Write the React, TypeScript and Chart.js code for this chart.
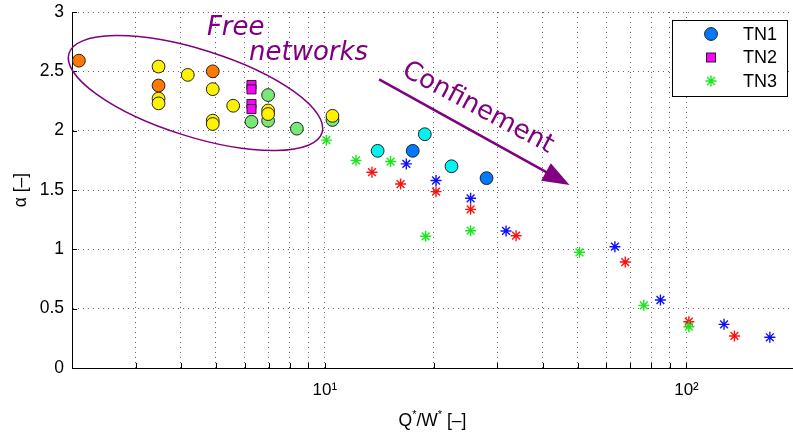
import React, { useEffect, useRef } from 'react';
import { Chart, registerables } from 'chart.js';

Chart.register(...registerables);

// ---------- tick definitions ----------
const xTickValues = [2, 3, 4, 5, 6, 7, 8, 9, 10, 20, 30, 40, 50, 60, 70, 80, 90, 100];
const xTickLabels: Record<string, string> = { '10': '10\u00B9', '100': '10\u00B2' };
const yTickValues = [0, 0.5, 1, 1.5, 2, 2.5, 3];
const xMin = 2;
const xMax = 197;
const yMin = 0;
const yMax = 3;

// ---------- TN1 (circles, coloured) ----------
const tn1YellowX = [3.47, 3.47, 3.47, 4.18, 4.9, 4.9, 4.9, 5.58, 6.97, 6.97, 10.5];
const tn1YellowY = [2.54, 2.27, 2.23, 2.47, 2.35, 2.085, 2.056, 2.21, 2.17, 2.14, 2.125];
const tn1OrangeX = [2.09, 3.47, 4.9];
const tn1OrangeY = [2.59, 2.38, 2.5];
const tn1GreenX = [6.27, 6.97, 6.97, 8.37, 10.5];
const tn1GreenY = [2.075, 2.3, 2.084, 2.017, 2.09];
const tn1CyanX = [14.0, 18.9, 22.4];
const tn1CyanY = [1.83, 1.97, 1.7];
const tn1BlueX = [17.5, 28.0];
const tn1BlueY = [1.83, 1.6];

// ---------- TN2 (squares) ----------
const tn2X = [6.27, 6.27, 6.27, 6.27];
const tn2Y = [2.385, 2.348, 2.225, 2.182];

// ---------- TN3 (stars) ----------
const tn3GreenX = [10.1, 12.2, 15.2, 19.0, 25.3, 50.6, 76.2, 101.5];
const tn3GreenY = [1.92, 1.75, 1.74, 1.11, 1.157, 0.975, 0.528, 0.348];
const tn3RedX = [13.5, 16.2, 20.3, 25.3, 33.8, 67.7, 101.5, 135.7];
const tn3RedY = [1.65, 1.55, 1.486, 1.337, 1.115, 0.893, 0.39, 0.27];
const tn3BlueX = [16.8, 20.3, 25.3, 31.7, 63.4, 84.7, 127, 170];
const tn3BlueY = [1.72, 1.58, 1.43, 1.155, 1.022, 0.573, 0.368, 0.259];

// ---------- annotation anchors (data coordinates) ----------
const ellipseCenter = [4.39, 2.317];
const freeTextAnchor = [4.72, 2.806];
const networksTextAnchor = [6.17, 2.595];
const arrowStart = [14.13, 2.432];
const arrowEnd = [47.5, 1.542];
const confinementAnchor = [26.5, 2.19];

const PURPLE = '#800080';
const FONT = '"Liberation Sans", Arial, Helvetica, sans-serif';
const ANNOT_FONT = '"DejaVu Sans", sans-serif';

const C_YELLOW = '#fff200';
const C_ORANGE = '#ff7800';
const C_GREEN = '#78e878';
const C_CYAN = '#00f4f4';
const C_BLUE = '#0078ff';
const C_MAGENTA = '#ff00ff';
const S_GREEN = '#18e818';
const S_RED = '#ff1010';
const S_BLUE = '#1010ff';

function pts(xs: number[], ys: number[]) {
  return xs.map((x, i) => ({ x, y: ys[i] }));
}

function circleSet(label: string, xs: number[], ys: number[], color: string, legendRank?: number) {
  return {
    label,
    data: pts(xs, ys),
    pointStyle: 'circle',
    pointRadius: 6.4,
    pointBackgroundColor: color,
    pointBorderColor: '#222',
    pointBorderWidth: 1,
    showLine: false,
    legendRank,
    legendColor: color,
  };
}

function starSet(label: string, xs: number[], ys: number[], color: string, legendRank?: number) {
  return {
    label,
    data: pts(xs, ys),
    pointStyle: 'star',
    pointRadius: 5.5,
    pointBackgroundColor: color,
    pointBorderColor: color,
    pointBorderWidth: 1.4,
    showLine: false,
    legendRank,
    legendColor: color,
  };
}

function drawMarker(ctx: CanvasRenderingContext2D, style: string, x: number, y: number, color: string) {
  ctx.save();
  ctx.lineWidth = 1;
  if (style === 'circle') {
    ctx.beginPath();
    ctx.arc(x, y, 6.4, 0, Math.PI * 2);
    ctx.fillStyle = color;
    ctx.fill();
    ctx.strokeStyle = '#222';
    ctx.stroke();
  } else if (style === 'rect') {
    ctx.fillStyle = color;
    ctx.fillRect(x - 4.5, y - 4.5, 9, 9);
    ctx.strokeStyle = '#222';
    ctx.strokeRect(x - 4.5, y - 4.5, 9, 9);
  } else {
    const r = 5.5;
    const d = r * Math.SQRT1_2;
    ctx.strokeStyle = color;
    ctx.lineWidth = 1.4;
    ctx.beginPath();
    ctx.moveTo(x - r, y); ctx.lineTo(x + r, y);
    ctx.moveTo(x, y - r); ctx.lineTo(x, y + r);
    ctx.moveTo(x - d, y - d); ctx.lineTo(x + d, y + d);
    ctx.moveTo(x - d, y + d); ctx.lineTo(x + d, y - d);
    ctx.stroke();
  }
  ctx.restore();
}

const inwardTicksPlugin = {
  id: 'inwardTicks',
  beforeDatasetsDraw(chart: any) {
    const { ctx, chartArea, scales } = chart;
    ctx.save();
    ctx.strokeStyle = '#000';
    ctx.lineWidth = 1;
    ctx.beginPath();
    for (const v of xTickValues) {
      const px = Math.round(scales.x.getPixelForValue(v)) + 0.5;
      ctx.moveTo(px, chartArea.bottom);
      ctx.lineTo(px, chartArea.bottom - 5);
    }
    for (const v of yTickValues) {
      const py = Math.round(scales.y.getPixelForValue(v)) + 0.5;
      ctx.moveTo(chartArea.left, py);
      ctx.lineTo(chartArea.left + 5, py);
    }
    ctx.stroke();
    ctx.restore();
  },
};

const annotationPlugin = {
  id: 'annotations',
  afterDatasetsDraw(chart: any) {
    const { ctx, scales } = chart;
    const X = (v: number) => scales.x.getPixelForValue(v);
    const Y = (v: number) => scales.y.getPixelForValue(v);
    ctx.save();
    // ellipse
    ctx.strokeStyle = PURPLE;
    ctx.lineWidth = 1.5;
    ctx.beginPath();
    ctx.ellipse(X(ellipseCenter[0]), Y(ellipseCenter[1]), 132.6, 43.6, (17.4 * Math.PI) / 180, 0, Math.PI * 2);
    ctx.stroke();
    // texts
    ctx.fillStyle = PURPLE;
    ctx.font = `italic 26px ${ANNOT_FONT}`;
    ctx.textAlign = 'left';
    ctx.textBaseline = 'alphabetic';
    ctx.fillText('Free', X(freeTextAnchor[0]), Y(freeTextAnchor[1]));
    ctx.fillText('networks', X(networksTextAnchor[0]), Y(networksTextAnchor[1]));
    // confinement text
    ctx.save();
    ctx.translate(X(confinementAnchor[0]), Y(confinementAnchor[1]));
    ctx.rotate((28 * Math.PI) / 180);
    ctx.font = `26px ${ANNOT_FONT}`;
    ctx.textAlign = 'center';
    ctx.textBaseline = 'middle';
    ctx.fillText('Confinement', 0, 0);
    ctx.restore();
    // arrow
    const x1 = X(arrowStart[0]), y1 = Y(arrowStart[1]);
    const x2 = X(arrowEnd[0]), y2 = Y(arrowEnd[1]);
    const ang = Math.atan2(y2 - y1, x2 - x1);
    const headLen = 27;
    const headHalf = 10;
    const bx = x2 - headLen * Math.cos(ang);
    const by = y2 - headLen * Math.sin(ang);
    ctx.strokeStyle = PURPLE;
    ctx.lineWidth = 2.5;
    ctx.beginPath();
    ctx.moveTo(x1, y1);
    ctx.lineTo(bx + 2 * Math.cos(ang), by + 2 * Math.sin(ang));
    ctx.stroke();
    ctx.beginPath();
    ctx.moveTo(x2, y2);
    ctx.lineTo(bx + headHalf * Math.sin(ang), by - headHalf * Math.cos(ang));
    ctx.lineTo(bx - headHalf * Math.sin(ang), by + headHalf * Math.cos(ang));
    ctx.closePath();
    ctx.fillStyle = PURPLE;
    ctx.fill();
    ctx.restore();
  },
};

const legendPlugin = {
  id: 'boxLegend',
  afterDraw(chart: any) {
    const { ctx, chartArea } = chart;
    const entries = chart.data.datasets
      .filter((d: any) => d.legendRank !== undefined)
      .sort((a: any, b: any) => a.legendRank - b.legendRank);
    const boxW = 115;
    const boxH = 76;
    const bx = Math.round(chartArea.right - 6 - boxW) + 0.5;
    const by = Math.round(chartArea.top + 8) + 0.5;
    ctx.save();
    ctx.fillStyle = '#fff';
    ctx.fillRect(bx, by, boxW, boxH);
    ctx.strokeStyle = '#000';
    ctx.lineWidth = 1;
    ctx.strokeRect(bx, by, boxW, boxH);
    entries.forEach((d: any, i: number) => {
      const cy = by + 13.5 + i * 23.5;
      drawMarker(ctx, d.pointStyle, bx + 38.5, cy, d.legendColor);
      ctx.fillStyle = '#000';
      ctx.font = `18px ${FONT}`;
      ctx.textAlign = 'left';
      ctx.textBaseline = 'middle';
      ctx.fillText(d.label, bx + 70.5, cy + 1);
    });
    ctx.restore();
  },
};

const axisTitlePlugin = {
  id: 'axisTitles',
  afterDraw(chart: any) {
    const { ctx, chartArea } = chart;
    ctx.save();
    ctx.fillStyle = '#000';
    // y title
    ctx.save();
    ctx.translate(21, (chartArea.top + chartArea.bottom) / 2);
    ctx.rotate(-Math.PI / 2);
    ctx.font = `17.5px ${FONT}`;
    ctx.textAlign = 'center';
    ctx.textBaseline = 'middle';
    ctx.fillText('\u03B1 [\u2013]', 0, 0);
    ctx.restore();
    // x title with superscript asterisks
    const parts: [string, boolean][] = [['Q', false], ['*', true], ['/W', false], ['*', true], [' [\u2013]', false]];
    const normal = `17.5px ${FONT}`;
    const sup = `11px ${FONT}`;
    let total = 0;
    for (const [t, s] of parts) {
      ctx.font = s ? sup : normal;
      total += ctx.measureText(t).width;
    }
    let x = (chartArea.left + chartArea.right) / 2 - total / 2;
    const base = 426;
    ctx.textAlign = 'left';
    ctx.textBaseline = 'alphabetic';
    for (const [t, s] of parts) {
      ctx.font = s ? sup : normal;
      ctx.fillText(t, x, s ? base - 8 : base);
      x += ctx.measureText(t).width;
    }
    ctx.restore();
  },
};

function zeroPadding(s: any) {
  s.paddingTop = 0;
  s.paddingBottom = 0;
  s.paddingLeft = 0;
  s.paddingRight = 0;
}

export default function App() {
  const canvasRef = useRef<HTMLCanvasElement | null>(null);

  useEffect(() => {
    document.body.style.margin = '0';
    const canvas = canvasRef.current;
    if (!canvas) return;
    const gridCommon = {
      color: 'rgba(0,0,0,0.6)',
      lineWidth: 1,
      drawTicks: false,
    };
    const borderCommon = { display: true, color: '#000', width: 1, dash: [1, 4] };
    const chart = new Chart(canvas, {
      type: 'scatter',
      data: {
        datasets: [
          circleSet('TN1', tn1YellowX, tn1YellowY, C_YELLOW),
          circleSet('TN1', tn1OrangeX, tn1OrangeY, C_ORANGE),
          {
            label: 'TN2',
            data: pts(tn2X, tn2Y),
            pointStyle: 'rect',
            pointRadius: 6.4,
            pointBackgroundColor: C_MAGENTA,
            pointBorderColor: '#222',
            pointBorderWidth: 1,
            showLine: false,
            legendRank: 1,
            legendColor: C_MAGENTA,
          } as any,
          circleSet('TN1', tn1GreenX, tn1GreenY, C_GREEN),
          circleSet('TN1', tn1CyanX, tn1CyanY, C_CYAN),
          circleSet('TN1', tn1BlueX, tn1BlueY, C_BLUE, 0),
          starSet('TN3', tn3GreenX, tn3GreenY, S_GREEN, 2),
          starSet('TN3', tn3RedX, tn3RedY, S_RED),
          starSet('TN3', tn3BlueX, tn3BlueY, S_BLUE),
        ] as any,
      },
      options: {
        responsive: false,
        animation: false,
        events: [],
        layout: { autoPadding: false, padding: { top: 12, left: 0, right: 0, bottom: 0 } },
        plugins: {
          legend: { display: false },
          tooltip: { enabled: false },
          title: { display: false },
        },
        scales: {
          x: {
            type: 'logarithmic',
            position: 'bottom',
            min: xMin,
            max: xMax,
            afterBuildTicks: (s: any) => {
              s.ticks = xTickValues.map((v) => ({ value: v }));
            },
            afterFit: (s: any) => {
              s.height = 68;
              zeroPadding(s);
            },
            ticks: {
              autoSkip: false,
              maxRotation: 0,
              minRotation: 0,
              padding: 12,
              color: '#000',
              font: { family: FONT, size: 17 },
              callback: (v: any) => xTickLabels[String(v)] ?? '',
            },
            grid: gridCommon,
            border: borderCommon,
          },
          y: {
            type: 'linear',
            min: yMin,
            max: yMax,
            afterBuildTicks: (s: any) => {
              s.ticks = yTickValues.map((v) => ({ value: v }));
            },
            afterFit: (s: any) => {
              s.width = 72;
              zeroPadding(s);
            },
            ticks: {
              padding: 8,
              color: '#000',
              font: { family: FONT, size: 17.5 },
              callback: (v: any) => String(v),
            },
            grid: gridCommon,
            border: borderCommon,
          },
        },
      } as any,
      plugins: [inwardTicksPlugin, annotationPlugin, legendPlugin, axisTitlePlugin],
    });
    return () => chart.destroy();
  }, []);

  return (
    <div style={{ width: 793, height: 436, background: '#fff' }}>
      <canvas ref={canvasRef} width={793} height={436} style={{ display: 'block' }} />
    </div>
  );
}
